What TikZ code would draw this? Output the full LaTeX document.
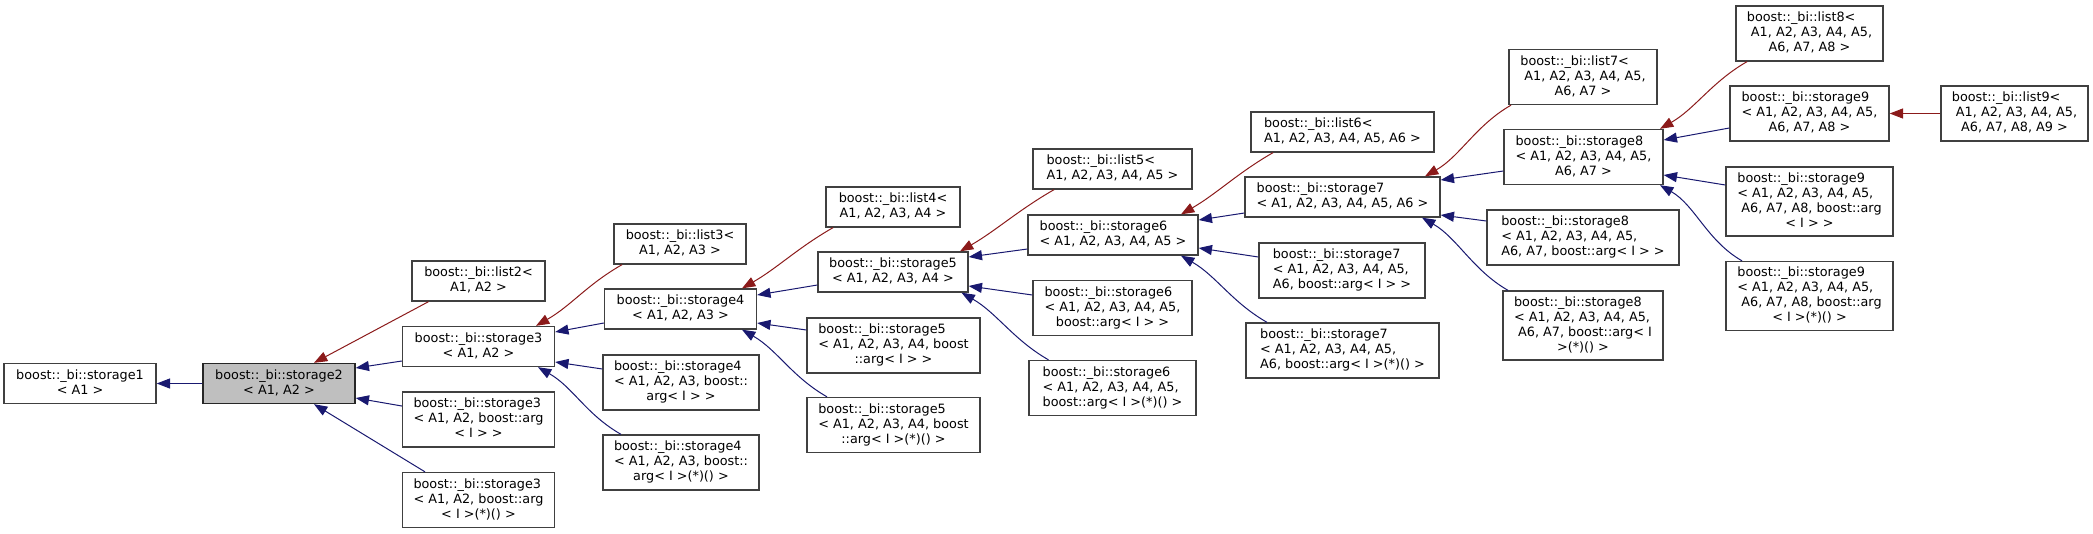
\documentclass[tikz,border=0pt]{standalone}
\usepackage{fontspec}
\setmainfont{DejaVu Sans}
\usetikzlibrary{arrows.meta}
\definecolor{edgeblue}{HTML}{191970}
\definecolor{edgered}{HTML}{8B1A1A}
\definecolor{boxline}{HTML}{404040}
\definecolor{focusfill}{HTML}{BFBFBF}
\newcommand{\dxl}[2]{\begin{tabular}{@{}l@{}}#1\\\multicolumn{1}{@{}c@{}}{#2}\end{tabular}}

\begin{document}
\begin{tikzpicture}[x=0.75pt, y=-0.75pt,
    every node/.style={font=\fontsize{9.6}{11.25}\selectfont},
    cls/.style 2 args={draw=boxline, fill=white, line width=1pt, inner sep=0pt, minimum width=#1*0.75pt, minimum height=#2*0.75pt},
    focus/.style={fill=focusfill, draw=black!85},
    inh/.style={color=edgeblue, line width=0.75pt, -{Triangle[length=10pt, width=7.5pt]}},
    tmpl/.style={inh, color=edgered}]
        \useasboundingbox (0,0) rectangle (2093,533);

        \node[cls={152}{40}] (s1) at (80,383.5) {\dxl{boost::\_bi::storage1}{< A1 >}};
        \node[cls={152}{40}, focus] (s2) at (279,383.5) {\dxl{boost::\_bi::storage2}{< A1, A2 >}};

        \node[cls={133}{40}] (l2) at (478.5,281) {\dxl{boost::\_bi::list2<}{A1, A2 >}};
        \node[cls={152}{40}] (s3) at (478.5,346.5) {\dxl{boost::\_bi::storage3}{< A1, A2 >}};
        \node[cls={152}{55}] (s3a) at (478.5,419.5) {\dxl{boost::\_bi::storage3\\< A1, A2, boost::arg}{< I > >}};
        \node[cls={152}{55}] (s3f) at (478.5,500) {\dxl{boost::\_bi::storage3\\< A1, A2, boost::arg}{< I >(*)() >}};

        \node[cls={132}{40}] (l3) at (680,244) {\dxl{boost::\_bi::list3<}{A1, A2, A3 >}};
        \node[cls={152}{40}] (s4) at (680.5,309) {\dxl{boost::\_bi::storage4}{< A1, A2, A3 >}};
        \node[cls={156}{55}] (s4a) at (681,382.5) {\dxl{boost::\_bi::storage4\\< A1, A2, A3, boost::}{arg< I > >}};
        \node[cls={156}{55}] (s4f) at (681,462.5) {\dxl{boost::\_bi::storage4\\< A1, A2, A3, boost::}{arg< I >(*)() >}};

        \node[cls={134}{40}] (l4) at (893,207) {\dxl{boost::\_bi::list4<}{A1, A2, A3, A4 >}};
        \node[cls={150}{40}] (s5) at (893,272) {\dxl{boost::\_bi::storage5}{< A1, A2, A3, A4 >}};
        \node[cls={173}{55}] (s5a) at (893.5,345.5) {\dxl{boost::\_bi::storage5\\< A1, A2, A3, A4, boost}{::arg< I > >}};
        \node[cls={173}{55}] (s5f) at (893.5,425) {\dxl{boost::\_bi::storage5\\< A1, A2, A3, A4, boost}{::arg< I >(*)() >}};

        \node[cls={159}{40}] (l5) at (1112.5,169) {\dxl{boost::\_bi::list5<}{A1, A2, A3, A4, A5 >}};
        \node[cls={170}{40}] (s6) at (1113,235) {\dxl{boost::\_bi::storage6}{< A1, A2, A3, A4, A5 >}};
        \node[cls={159}{55}] (s6a) at (1112.5,308) {\dxl{boost::\_bi::storage6\\< A1, A2, A3, A4, A5,}{boost::arg< I > >}};
        \node[cls={167}{55}] (s6f) at (1112.5,388) {\dxl{boost::\_bi::storage6\\< A1, A2, A3, A4, A5,}{boost::arg< I >(*)() >}};

        \node[cls={183}{40}] (l6) at (1342.5,132) {\dxl{boost::\_bi::list6<}{A1, A2, A3, A4, A5, A6 >}};
        \node[cls={195}{40}] (s7) at (1342.5,197) {\dxl{boost::\_bi::storage7}{< A1, A2, A3, A4, A5, A6 >}};
        \node[cls={166}{55}] (s7a) at (1342,270.5) {\dxl{boost::\_bi::storage7\\< A1, A2, A3, A4, A5,}{A6, boost::arg< I > >}};
        \node[cls={193}{55}] (s7f) at (1342.5,350.5) {\dxl{boost::\_bi::storage7\\< A1, A2, A3, A4, A5,}{A6, boost::arg< I >(*)() >}};

        \node[cls={148}{55}] (l7) at (1583,77) {\dxl{boost::\_bi::list7<\\\ A1, A2, A3, A4, A5,}{A6, A7 >}};
        \node[cls={159}{55}] (s8) at (1583.5,157) {\dxl{boost::\_bi::storage8\\< A1, A2, A3, A4, A5,}{A6, A7 >}};
        \node[cls={192}{55}] (s8a) at (1583,237.5) {\dxl{boost::\_bi::storage8\\< A1, A2, A3, A4, A5,}{A6, A7, boost::arg< I > >}};
        \node[cls={160}{69}] (s8f) at (1583,325.5) {\dxl{boost::\_bi::storage8\\< A1, A2, A3, A4, A5,\\\ A6, A7, boost::arg< I}{>(*)() >}};

        \node[cls={147}{55}] (l8) at (1809.5,33.5) {\dxl{boost::\_bi::list8<\\\ A1, A2, A3, A4, A5,}{A6, A7, A8 >}};
        \node[cls={159}{55}] (s9) at (1809.5,113.5) {\dxl{boost::\_bi::storage9\\< A1, A2, A3, A4, A5,}{A6, A7, A8 >}};
        \node[cls={167}{69}] (s9a) at (1809.5,201.5) {\dxl{boost::\_bi::storage9\\< A1, A2, A3, A4, A5,\\\ A6, A7, A8, boost::arg}{< I > >}};
        \node[cls={167}{69}] (s9f) at (1809.5,296) {\dxl{boost::\_bi::storage9\\< A1, A2, A3, A4, A5,\\\ A6, A7, A8, boost::arg}{< I >(*)() >}};
        \node[cls={147}{55}] (l9) at (2014.5,113.5) {\dxl{boost::\_bi::list9<\\\ A1, A2, A3, A4, A5,}{A6, A7, A8, A9 >}};

        \draw[inh] (s2) -- (s1);
        \draw[tmpl] ([shift={(-50,0)}]l2.south) -- ([shift={(35,0)}]s2.north);
        \draw[inh] ([shift={(0,14.5)}]s3.west) -- ([shift={(0,-15.5)}]s2.east);
        \draw[inh] ([shift={(0,-13.5)}]s3a.west) -- ([shift={(0,14.5)}]s2.east);
        \draw[inh] ([shift={(-53.5,0)}]s3f.north) -- ([shift={(35,0)}]s2.south);

        \draw[tmpl] ([shift={(-58,0)}]l3.south) .. controls +(-35,20) and +(35,-20) .. ([shift={(57.5,0)}]s3.north);
        \draw[inh] ([shift={(0,14)}]s4.west) -- ([shift={(0,-14.5)}]s3.east);
        \draw[inh] ([shift={(0,-13.5)}]s4a.west) -- ([shift={(0,15.5)}]s3.east);
        \draw[inh] ([shift={(-60,0)}]s4f.north) .. controls +(-35,-20) and +(35,20) .. ([shift={(59.5,0)}]s3.south);

        \draw[tmpl] ([shift={(-60,0)}]l4.south) .. controls +(-35,20) and +(35,-20) .. ([shift={(61.5,0)}]s4.north);
        \draw[inh] ([shift={(0,13)}]s5.west) -- ([shift={(0,-14)}]s4.east);
        \draw[inh] ([shift={(0,-15.5)}]s5a.west) -- ([shift={(0,14)}]s4.east);
        \draw[inh] ([shift={(-66.5,0)}]s5f.north) .. controls +(-35,-20) and +(35,20) .. ([shift={(61.5,0)}]s4.south);

        \draw[tmpl] ([shift={(-58.5,0)}]l5.south) .. controls +(-35,20) and +(35,-20) .. ([shift={(67,0)}]s5.north);
        \draw[inh] ([shift={(0,14)}]s6.west) -- ([shift={(0,-15)}]s5.east);
        \draw[inh] ([shift={(0,-13)}]s6a.west) -- ([shift={(0,14)}]s5.east);
        \draw[inh] ([shift={(-64,0)}]s6f.north) .. controls +(-35,-20) and +(35,20) .. ([shift={(68.5,0)}]s5.south);

        \draw[tmpl] ([shift={(-69.5,0)}]l6.south) .. controls +(-35,20) and +(35,-20) .. ([shift={(68,0)}]s6.north);
        \draw[inh] ([shift={(0,16)}]s7.west) -- ([shift={(0,-15)}]s6.east);
        \draw[inh] ([shift={(0,-13.5)}]s7a.west) -- ([shift={(0,13)}]s6.east);
        \draw[inh] ([shift={(-75.5,0)}]s7f.north) .. controls +(-35,-20) and +(35,20) .. ([shift={(68,0)}]s6.south);

        \draw[tmpl] ([shift={(-72,0)}]l7.south) .. controls +(-35,20) and +(35,-20) .. ([shift={(82.5,0)}]s7.north);
        \draw[inh] ([shift={(0,14)}]s8.west) -- ([shift={(0,-17)}]s7.east);
        \draw[inh] ([shift={(0,-16.5)}]s8a.west) -- ([shift={(0,18)}]s7.east);
        \draw[inh] ([shift={(-75,0)}]s8f.north) .. controls +(-35,-20) and +(35,20) .. ([shift={(79.5,0)}]s7.south);

        \draw[tmpl] ([shift={(-62.5,0)}]l8.south) .. controls +(-35,20) and +(35,-20) .. ([shift={(76.5,0)}]s8.north);
        \draw[inh] ([shift={(0,14.5)}]s9.west) -- ([shift={(0,-17)}]s8.east);
        \draw[inh] ([shift={(0,-16.5)}]s9a.west) -- ([shift={(0,18)}]s8.east);
        \draw[inh] ([shift={(-67.5,0)}]s9f.north) .. controls +(-35,-20) and +(35,20) .. ([shift={(76.5,0)}]s8.south);

        \draw[tmpl] (l9) -- (s9);
    \end{tikzpicture}
\end{document}
